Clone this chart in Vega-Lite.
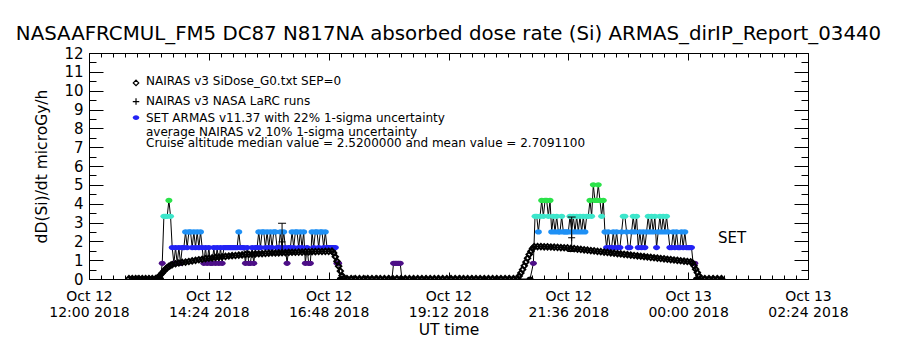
{
  "$schema": "https://vega.github.io/schema/vega-lite/v6.json",
  "width": 719,
  "height": 226,
  "autosize": {"type": "none"},
  "padding": {"left": 89, "top": 53, "right": 92, "bottom": 71},
  "background": "white",
  "config": {
    "view": {"stroke": null},
    "font": "DejaVu Sans",
    "axis": {"domainColor": "black", "tickColor": "black", "labelColor": "black", "titleColor": "black", "labelFont": "DejaVu Sans", "titleFont": "DejaVu Sans", "titleFontWeight": "normal", "grid": false, "domainWidth": 1, "tickWidth": 1}
  },
  "title": {"text": "NASAAFRCMUL_FM5 DC87 N817NA absorbed dose rate (Si) ARMAS_dirIP_Report_03440", "font": "DejaVu Sans", "fontSize": 19.8, "fontWeight": "normal", "color": "black", "anchor": "middle", "offset": 2},
  "datasets": {
    "armas": [
      {"t": "2018-10-12T13:20Z", "a": 0}, {"t": "2018-10-12T13:26Z", "a": 0}, {"t": "2018-10-12T13:28Z", "a": 0.83},
      {"t": "2018-10-12T13:30Z", "a": 3.33}, {"t": "2018-10-12T13:32Z", "a": 3.33}, {"t": "2018-10-12T13:34Z", "a": 3.33},
      {"t": "2018-10-12T13:36Z", "a": 4.17}, {"t": "2018-10-12T13:38Z", "a": 3.33}, {"t": "2018-10-12T13:40Z", "a": 1.67},
      {"t": "2018-10-12T13:42Z", "a": 0.83}, {"t": "2018-10-12T13:44Z", "a": 1.67}, {"t": "2018-10-12T13:46Z", "a": 0.83},
      {"t": "2018-10-12T13:48Z", "a": 1.67}, {"t": "2018-10-12T13:50Z", "a": 0.83}, {"t": "2018-10-12T13:52Z", "a": 1.67},
      {"t": "2018-10-12T13:54Z", "a": 1.67}, {"t": "2018-10-12T13:56Z", "a": 2.5}, {"t": "2018-10-12T13:58Z", "a": 1.67},
      {"t": "2018-10-12T14:00Z", "a": 2.5}, {"t": "2018-10-12T14:02Z", "a": 2.5}, {"t": "2018-10-12T14:04Z", "a": 1.67},
      {"t": "2018-10-12T14:06Z", "a": 2.5}, {"t": "2018-10-12T14:08Z", "a": 1.67}, {"t": "2018-10-12T14:10Z", "a": 2.5},
      {"t": "2018-10-12T14:12Z", "a": 1.67}, {"t": "2018-10-12T14:14Z", "a": 2.5}, {"t": "2018-10-12T14:16Z", "a": 1.67},
      {"t": "2018-10-12T14:18Z", "a": 0.83}, {"t": "2018-10-12T14:20Z", "a": 1.67}, {"t": "2018-10-12T14:22Z", "a": 0.83},
      {"t": "2018-10-12T14:24Z", "a": 1.67}, {"t": "2018-10-12T14:26Z", "a": 0.83}, {"t": "2018-10-12T14:28Z", "a": 0.83},
      {"t": "2018-10-12T14:30Z", "a": 1.67}, {"t": "2018-10-12T14:32Z", "a": 0.83}, {"t": "2018-10-12T14:34Z", "a": 1.67},
      {"t": "2018-10-12T14:36Z", "a": 0.83}, {"t": "2018-10-12T14:38Z", "a": 1.67}, {"t": "2018-10-12T14:40Z", "a": 0.83},
      {"t": "2018-10-12T14:42Z", "a": 1.67}, {"t": "2018-10-12T14:44Z", "a": 1.67}, {"t": "2018-10-12T14:46Z", "a": 1.67},
      {"t": "2018-10-12T14:48Z", "a": 1.67}, {"t": "2018-10-12T14:50Z", "a": 1.67}, {"t": "2018-10-12T14:52Z", "a": 1.67},
      {"t": "2018-10-12T14:54Z", "a": 1.67}, {"t": "2018-10-12T14:56Z", "a": 1.67}, {"t": "2018-10-12T14:58Z", "a": 1.67},
      {"t": "2018-10-12T15:00Z", "a": 2.5}, {"t": "2018-10-12T15:02Z", "a": 1.67}, {"t": "2018-10-12T15:04Z", "a": 1.67},
      {"t": "2018-10-12T15:06Z", "a": 1.67}, {"t": "2018-10-12T15:08Z", "a": 0.83}, {"t": "2018-10-12T15:10Z", "a": 1.67},
      {"t": "2018-10-12T15:12Z", "a": 0.83}, {"t": "2018-10-12T15:14Z", "a": 0.83}, {"t": "2018-10-12T15:16Z", "a": 1.67},
      {"t": "2018-10-12T15:18Z", "a": 0.83}, {"t": "2018-10-12T15:20Z", "a": 1.67}, {"t": "2018-10-12T15:22Z", "a": 1.67},
      {"t": "2018-10-12T15:24Z", "a": 2.5}, {"t": "2018-10-12T15:26Z", "a": 1.67}, {"t": "2018-10-12T15:28Z", "a": 2.5},
      {"t": "2018-10-12T15:30Z", "a": 2.5}, {"t": "2018-10-12T15:32Z", "a": 1.67}, {"t": "2018-10-12T15:34Z", "a": 2.5},
      {"t": "2018-10-12T15:36Z", "a": 1.67}, {"t": "2018-10-12T15:38Z", "a": 2.5}, {"t": "2018-10-12T15:40Z", "a": 1.67},
      {"t": "2018-10-12T15:42Z", "a": 2.5}, {"t": "2018-10-12T15:44Z", "a": 2.5}, {"t": "2018-10-12T15:46Z", "a": 1.67},
      {"t": "2018-10-12T15:48Z", "a": 1.67}, {"t": "2018-10-12T15:50Z", "a": 2.5}, {"t": "2018-10-12T15:52Z", "a": 1.67},
      {"t": "2018-10-12T15:54Z", "a": 2.5}, {"t": "2018-10-12T15:56Z", "a": 1.67}, {"t": "2018-10-12T15:58Z", "a": 0.83},
      {"t": "2018-10-12T16:00Z", "a": 1.67}, {"t": "2018-10-12T16:02Z", "a": 1.67}, {"t": "2018-10-12T16:04Z", "a": 2.5},
      {"t": "2018-10-12T16:06Z", "a": 1.67}, {"t": "2018-10-12T16:08Z", "a": 2.5}, {"t": "2018-10-12T16:10Z", "a": 2.5},
      {"t": "2018-10-12T16:12Z", "a": 1.67}, {"t": "2018-10-12T16:14Z", "a": 2.5}, {"t": "2018-10-12T16:16Z", "a": 1.67},
      {"t": "2018-10-12T16:18Z", "a": 2.5}, {"t": "2018-10-12T16:20Z", "a": 0.83}, {"t": "2018-10-12T16:22Z", "a": 1.67},
      {"t": "2018-10-12T16:24Z", "a": 0.83}, {"t": "2018-10-12T16:26Z", "a": 0.83}, {"t": "2018-10-12T16:28Z", "a": 2.5},
      {"t": "2018-10-12T16:30Z", "a": 1.67}, {"t": "2018-10-12T16:32Z", "a": 2.5}, {"t": "2018-10-12T16:34Z", "a": 2.5},
      {"t": "2018-10-12T16:36Z", "a": 1.67}, {"t": "2018-10-12T16:38Z", "a": 2.5}, {"t": "2018-10-12T16:40Z", "a": 2.5},
      {"t": "2018-10-12T16:42Z", "a": 1.67}, {"t": "2018-10-12T16:44Z", "a": 2.5}, {"t": "2018-10-12T16:46Z", "a": 1.67},
      {"t": "2018-10-12T16:48Z", "a": 1.67}, {"t": "2018-10-12T16:50Z", "a": 1.67}, {"t": "2018-10-12T16:52Z", "a": 1.67},
      {"t": "2018-10-12T16:54Z", "a": 1.67}, {"t": "2018-10-12T16:56Z", "a": 1.67}, {"t": "2018-10-12T16:58Z", "a": 0.83},
      {"t": "2018-10-12T17:00Z", "a": 0.83}, {"t": "2018-10-12T17:02Z", "a": 0},
      {"t": "2018-10-12T18:04Z", "a": 0}, {"t": "2018-10-12T18:06Z", "a": 0.83}, {"t": "2018-10-12T18:08Z", "a": 0.83},
      {"t": "2018-10-12T18:10Z", "a": 0.83}, {"t": "2018-10-12T18:12Z", "a": 0.83}, {"t": "2018-10-12T18:14Z", "a": 0.83},
      {"t": "2018-10-12T18:16Z", "a": 0},
      {"t": "2018-10-12T20:50Z", "a": 0}, {"t": "2018-10-12T20:54Z", "a": 0.83}, {"t": "2018-10-12T20:56Z", "a": 3.33},
      {"t": "2018-10-12T20:58Z", "a": 3.33}, {"t": "2018-10-12T21:00Z", "a": 2.5}, {"t": "2018-10-12T21:02Z", "a": 3.33},
      {"t": "2018-10-12T21:04Z", "a": 4.17}, {"t": "2018-10-12T21:06Z", "a": 3.33}, {"t": "2018-10-12T21:08Z", "a": 4.17},
      {"t": "2018-10-12T21:10Z", "a": 4.17}, {"t": "2018-10-12T21:12Z", "a": 3.33}, {"t": "2018-10-12T21:14Z", "a": 4.17},
      {"t": "2018-10-12T21:16Z", "a": 2.5}, {"t": "2018-10-12T21:18Z", "a": 3.33}, {"t": "2018-10-12T21:20Z", "a": 2.5},
      {"t": "2018-10-12T21:22Z", "a": 3.33}, {"t": "2018-10-12T21:24Z", "a": 2.5}, {"t": "2018-10-12T21:26Z", "a": 2.5},
      {"t": "2018-10-12T21:28Z", "a": 3.33}, {"t": "2018-10-12T21:30Z", "a": 2.5}, {"t": "2018-10-12T21:32Z", "a": 2.5},
      {"t": "2018-10-12T21:34Z", "a": 2.5}, {"t": "2018-10-12T21:36Z", "a": 2.5}, {"t": "2018-10-12T21:38Z", "a": 3.33},
      {"t": "2018-10-12T21:40Z", "a": 2.5}, {"t": "2018-10-12T21:42Z", "a": 3.33}, {"t": "2018-10-12T21:44Z", "a": 2.5},
      {"t": "2018-10-12T21:46Z", "a": 3.33}, {"t": "2018-10-12T21:48Z", "a": 2.5}, {"t": "2018-10-12T21:50Z", "a": 3.33},
      {"t": "2018-10-12T21:52Z", "a": 2.5}, {"t": "2018-10-12T21:54Z", "a": 3.33}, {"t": "2018-10-12T21:56Z", "a": 2.5},
      {"t": "2018-10-12T21:58Z", "a": 3.33}, {"t": "2018-10-12T22:00Z", "a": 3.33}, {"t": "2018-10-12T22:02Z", "a": 4.17},
      {"t": "2018-10-12T22:04Z", "a": 3.33}, {"t": "2018-10-12T22:06Z", "a": 5.0}, {"t": "2018-10-12T22:08Z", "a": 4.17},
      {"t": "2018-10-12T22:10Z", "a": 4.17}, {"t": "2018-10-12T22:12Z", "a": 5.0}, {"t": "2018-10-12T22:14Z", "a": 4.17},
      {"t": "2018-10-12T22:16Z", "a": 3.33}, {"t": "2018-10-12T22:18Z", "a": 4.17}, {"t": "2018-10-12T22:20Z", "a": 2.5},
      {"t": "2018-10-12T22:22Z", "a": 1.67}, {"t": "2018-10-12T22:24Z", "a": 2.5}, {"t": "2018-10-12T22:26Z", "a": 1.67},
      {"t": "2018-10-12T22:28Z", "a": 1.67}, {"t": "2018-10-12T22:30Z", "a": 2.5}, {"t": "2018-10-12T22:32Z", "a": 1.67},
      {"t": "2018-10-12T22:34Z", "a": 2.5}, {"t": "2018-10-12T22:36Z", "a": 1.67}, {"t": "2018-10-12T22:38Z", "a": 1.67},
      {"t": "2018-10-12T22:40Z", "a": 2.5}, {"t": "2018-10-12T22:42Z", "a": 3.33}, {"t": "2018-10-12T22:44Z", "a": 3.33},
      {"t": "2018-10-12T22:46Z", "a": 2.5}, {"t": "2018-10-12T22:48Z", "a": 1.67}, {"t": "2018-10-12T22:50Z", "a": 1.67},
      {"t": "2018-10-12T22:52Z", "a": 2.5}, {"t": "2018-10-12T22:54Z", "a": 3.33}, {"t": "2018-10-12T22:56Z", "a": 2.5},
      {"t": "2018-10-12T22:58Z", "a": 3.33}, {"t": "2018-10-12T23:00Z", "a": 1.67}, {"t": "2018-10-12T23:02Z", "a": 2.5},
      {"t": "2018-10-12T23:04Z", "a": 1.67}, {"t": "2018-10-12T23:06Z", "a": 2.5}, {"t": "2018-10-12T23:08Z", "a": 1.67},
      {"t": "2018-10-12T23:10Z", "a": 2.5}, {"t": "2018-10-12T23:12Z", "a": 3.33}, {"t": "2018-10-12T23:14Z", "a": 2.5},
      {"t": "2018-10-12T23:16Z", "a": 3.33}, {"t": "2018-10-12T23:18Z", "a": 2.5}, {"t": "2018-10-12T23:20Z", "a": 3.33},
      {"t": "2018-10-12T23:22Z", "a": 1.67}, {"t": "2018-10-12T23:24Z", "a": 2.5}, {"t": "2018-10-12T23:26Z", "a": 3.33},
      {"t": "2018-10-12T23:28Z", "a": 2.5}, {"t": "2018-10-12T23:30Z", "a": 3.33}, {"t": "2018-10-12T23:32Z", "a": 2.5},
      {"t": "2018-10-12T23:34Z", "a": 3.33}, {"t": "2018-10-12T23:36Z", "a": 2.5}, {"t": "2018-10-12T23:38Z", "a": 1.67},
      {"t": "2018-10-12T23:40Z", "a": 1.67}, {"t": "2018-10-12T23:42Z", "a": 2.5}, {"t": "2018-10-12T23:44Z", "a": 1.67},
      {"t": "2018-10-12T23:46Z", "a": 2.5}, {"t": "2018-10-12T23:48Z", "a": 1.67}, {"t": "2018-10-12T23:50Z", "a": 1.67},
      {"t": "2018-10-12T23:52Z", "a": 2.5}, {"t": "2018-10-12T23:54Z", "a": 1.67}, {"t": "2018-10-12T23:56Z", "a": 2.5},
      {"t": "2018-10-12T23:58Z", "a": 1.67}, {"t": "2018-10-13T00:00Z", "a": 1.67}, {"t": "2018-10-13T00:02Z", "a": 1.67},
      {"t": "2018-10-13T00:04Z", "a": 1.67}, {"t": "2018-10-13T00:06Z", "a": 0.83}, {"t": "2018-10-13T00:08Z", "a": 0.83},
      {"t": "2018-10-13T00:10Z", "a": 0}, {"t": "2018-10-13T00:40Z", "a": 0}
    ],
    "nairas": [
      {"t": "2018-10-12T12:48Z", "n": 0.02}, {"t": "2018-10-12T12:52Z", "n": 0.02}, {"t": "2018-10-12T12:56Z", "n": 0.02},
      {"t": "2018-10-12T13:00Z", "n": 0.02}, {"t": "2018-10-12T13:04Z", "n": 0.02}, {"t": "2018-10-12T13:08Z", "n": 0.02},
      {"t": "2018-10-12T13:12Z", "n": 0.02}, {"t": "2018-10-12T13:16Z", "n": 0.02}, {"t": "2018-10-12T13:20Z", "n": 0.02},
      {"t": "2018-10-12T13:22Z", "n": 0.05}, {"t": "2018-10-12T13:24Z", "n": 0.12}, {"t": "2018-10-12T13:26Z", "n": 0.22},
      {"t": "2018-10-12T13:28Z", "n": 0.32}, {"t": "2018-10-12T13:30Z", "n": 0.42}, {"t": "2018-10-12T13:32Z", "n": 0.52},
      {"t": "2018-10-12T13:34Z", "n": 0.6}, {"t": "2018-10-12T13:36Z", "n": 0.67}, {"t": "2018-10-12T13:38Z", "n": 0.72},
      {"t": "2018-10-12T13:40Z", "n": 0.76}, {"t": "2018-10-12T13:44Z", "n": 0.81}, {"t": "2018-10-12T13:48Z", "n": 0.85},
      {"t": "2018-10-12T13:52Z", "n": 0.88}, {"t": "2018-10-12T13:56Z", "n": 0.9}, {"t": "2018-10-12T14:00Z", "n": 0.93},
      {"t": "2018-10-12T14:04Z", "n": 0.96}, {"t": "2018-10-12T14:08Z", "n": 0.99}, {"t": "2018-10-12T14:12Z", "n": 1.02},
      {"t": "2018-10-12T14:16Z", "n": 1.05}, {"t": "2018-10-12T14:20Z", "n": 1.08}, {"t": "2018-10-12T14:24Z", "n": 1.1},
      {"t": "2018-10-12T14:28Z", "n": 1.12}, {"t": "2018-10-12T14:32Z", "n": 1.14}, {"t": "2018-10-12T14:36Z", "n": 1.16},
      {"t": "2018-10-12T14:40Z", "n": 1.18}, {"t": "2018-10-12T14:44Z", "n": 1.2}, {"t": "2018-10-12T14:48Z", "n": 1.22},
      {"t": "2018-10-12T14:52Z", "n": 1.24}, {"t": "2018-10-12T14:56Z", "n": 1.25}, {"t": "2018-10-12T15:00Z", "n": 1.27},
      {"t": "2018-10-12T15:04Z", "n": 1.28}, {"t": "2018-10-12T15:08Z", "n": 1.3}, {"t": "2018-10-12T15:12Z", "n": 1.31},
      {"t": "2018-10-12T15:16Z", "n": 1.32}, {"t": "2018-10-12T15:20Z", "n": 1.33}, {"t": "2018-10-12T15:24Z", "n": 1.34},
      {"t": "2018-10-12T15:28Z", "n": 1.35}, {"t": "2018-10-12T15:32Z", "n": 1.36}, {"t": "2018-10-12T15:36Z", "n": 1.37},
      {"t": "2018-10-12T15:40Z", "n": 1.38}, {"t": "2018-10-12T15:44Z", "n": 1.38}, {"t": "2018-10-12T15:48Z", "n": 1.39},
      {"t": "2018-10-12T15:52Z", "n": 1.4}, {"t": "2018-10-12T15:56Z", "n": 1.4}, {"t": "2018-10-12T16:00Z", "n": 1.41},
      {"t": "2018-10-12T16:04Z", "n": 1.42}, {"t": "2018-10-12T16:08Z", "n": 1.42}, {"t": "2018-10-12T16:12Z", "n": 1.43},
      {"t": "2018-10-12T16:16Z", "n": 1.43}, {"t": "2018-10-12T16:20Z", "n": 1.44}, {"t": "2018-10-12T16:24Z", "n": 1.44},
      {"t": "2018-10-12T16:28Z", "n": 1.45}, {"t": "2018-10-12T16:32Z", "n": 1.45}, {"t": "2018-10-12T16:36Z", "n": 1.46},
      {"t": "2018-10-12T16:40Z", "n": 1.46}, {"t": "2018-10-12T16:44Z", "n": 1.47}, {"t": "2018-10-12T16:48Z", "n": 1.47},
      {"t": "2018-10-12T16:52Z", "n": 1.48}, {"t": "2018-10-12T16:54Z", "n": 1.38}, {"t": "2018-10-12T16:56Z", "n": 1.18},
      {"t": "2018-10-12T16:58Z", "n": 0.94}, {"t": "2018-10-12T17:00Z", "n": 0.68}, {"t": "2018-10-12T17:02Z", "n": 0.42},
      {"t": "2018-10-12T17:04Z", "n": 0.18}, {"t": "2018-10-12T17:06Z", "n": 0.04},
      {"t": "2018-10-12T17:10Z", "n": 0.02}, {"t": "2018-10-12T17:15Z", "n": 0.02}, {"t": "2018-10-12T17:20Z", "n": 0.02},
      {"t": "2018-10-12T17:25Z", "n": 0.02}, {"t": "2018-10-12T17:30Z", "n": 0.02}, {"t": "2018-10-12T17:35Z", "n": 0.02},
      {"t": "2018-10-12T17:40Z", "n": 0.02}, {"t": "2018-10-12T17:45Z", "n": 0.02}, {"t": "2018-10-12T17:50Z", "n": 0.02},
      {"t": "2018-10-12T17:55Z", "n": 0.02}, {"t": "2018-10-12T18:00Z", "n": 0.02}, {"t": "2018-10-12T18:05Z", "n": 0.02},
      {"t": "2018-10-12T18:10Z", "n": 0.02}, {"t": "2018-10-12T18:15Z", "n": 0.02}, {"t": "2018-10-12T18:20Z", "n": 0.02},
      {"t": "2018-10-12T18:25Z", "n": 0.02}, {"t": "2018-10-12T18:30Z", "n": 0.02}, {"t": "2018-10-12T18:35Z", "n": 0.02},
      {"t": "2018-10-12T18:40Z", "n": 0.02}, {"t": "2018-10-12T18:45Z", "n": 0.02}, {"t": "2018-10-12T18:50Z", "n": 0.02},
      {"t": "2018-10-12T18:55Z", "n": 0.02}, {"t": "2018-10-12T19:00Z", "n": 0.02}, {"t": "2018-10-12T19:05Z", "n": 0.02},
      {"t": "2018-10-12T19:10Z", "n": 0.02}, {"t": "2018-10-12T19:15Z", "n": 0.02}, {"t": "2018-10-12T19:20Z", "n": 0.02},
      {"t": "2018-10-12T19:25Z", "n": 0.02}, {"t": "2018-10-12T19:30Z", "n": 0.02}, {"t": "2018-10-12T19:35Z", "n": 0.02},
      {"t": "2018-10-12T19:40Z", "n": 0.02}, {"t": "2018-10-12T19:45Z", "n": 0.02}, {"t": "2018-10-12T19:50Z", "n": 0.02},
      {"t": "2018-10-12T19:55Z", "n": 0.02}, {"t": "2018-10-12T20:00Z", "n": 0.02}, {"t": "2018-10-12T20:05Z", "n": 0.02},
      {"t": "2018-10-12T20:10Z", "n": 0.02}, {"t": "2018-10-12T20:15Z", "n": 0.02}, {"t": "2018-10-12T20:20Z", "n": 0.02},
      {"t": "2018-10-12T20:25Z", "n": 0.02}, {"t": "2018-10-12T20:30Z", "n": 0.02},
      {"t": "2018-10-12T20:35Z", "n": 0.04}, {"t": "2018-10-12T20:37Z", "n": 0.16}, {"t": "2018-10-12T20:39Z", "n": 0.32},
      {"t": "2018-10-12T20:41Z", "n": 0.5}, {"t": "2018-10-12T20:43Z", "n": 0.7}, {"t": "2018-10-12T20:45Z", "n": 0.9},
      {"t": "2018-10-12T20:47Z", "n": 1.1}, {"t": "2018-10-12T20:49Z", "n": 1.3}, {"t": "2018-10-12T20:51Z", "n": 1.47},
      {"t": "2018-10-12T20:53Z", "n": 1.62}, {"t": "2018-10-12T20:55Z", "n": 1.72}, {"t": "2018-10-12T20:59Z", "n": 1.72},
      {"t": "2018-10-12T21:03Z", "n": 1.72}, {"t": "2018-10-12T21:07Z", "n": 1.71}, {"t": "2018-10-12T21:11Z", "n": 1.71},
      {"t": "2018-10-12T21:15Z", "n": 1.7}, {"t": "2018-10-12T21:19Z", "n": 1.69}, {"t": "2018-10-12T21:23Z", "n": 1.68},
      {"t": "2018-10-12T21:27Z", "n": 1.67}, {"t": "2018-10-12T21:31Z", "n": 1.66}, {"t": "2018-10-12T21:35Z", "n": 1.65},
      {"t": "2018-10-12T21:39Z", "n": 1.63}, {"t": "2018-10-12T21:43Z", "n": 1.61}, {"t": "2018-10-12T21:47Z", "n": 1.59},
      {"t": "2018-10-12T21:51Z", "n": 1.57}, {"t": "2018-10-12T21:55Z", "n": 1.55}, {"t": "2018-10-12T21:59Z", "n": 1.53},
      {"t": "2018-10-12T22:03Z", "n": 1.51}, {"t": "2018-10-12T22:07Z", "n": 1.49}, {"t": "2018-10-12T22:11Z", "n": 1.47},
      {"t": "2018-10-12T22:15Z", "n": 1.45}, {"t": "2018-10-12T22:19Z", "n": 1.43}, {"t": "2018-10-12T22:23Z", "n": 1.41},
      {"t": "2018-10-12T22:27Z", "n": 1.39}, {"t": "2018-10-12T22:31Z", "n": 1.37}, {"t": "2018-10-12T22:35Z", "n": 1.35},
      {"t": "2018-10-12T22:39Z", "n": 1.33}, {"t": "2018-10-12T22:43Z", "n": 1.31}, {"t": "2018-10-12T22:47Z", "n": 1.29},
      {"t": "2018-10-12T22:51Z", "n": 1.27}, {"t": "2018-10-12T22:55Z", "n": 1.25}, {"t": "2018-10-12T22:59Z", "n": 1.23},
      {"t": "2018-10-12T23:03Z", "n": 1.21}, {"t": "2018-10-12T23:07Z", "n": 1.19}, {"t": "2018-10-12T23:11Z", "n": 1.17},
      {"t": "2018-10-12T23:15Z", "n": 1.15}, {"t": "2018-10-12T23:19Z", "n": 1.13}, {"t": "2018-10-12T23:23Z", "n": 1.11},
      {"t": "2018-10-12T23:27Z", "n": 1.09}, {"t": "2018-10-12T23:31Z", "n": 1.07}, {"t": "2018-10-12T23:35Z", "n": 1.05},
      {"t": "2018-10-12T23:39Z", "n": 1.03}, {"t": "2018-10-12T23:43Z", "n": 1.01}, {"t": "2018-10-12T23:47Z", "n": 0.99},
      {"t": "2018-10-12T23:51Z", "n": 0.97}, {"t": "2018-10-12T23:55Z", "n": 0.95}, {"t": "2018-10-12T23:59Z", "n": 0.93},
      {"t": "2018-10-13T00:03Z", "n": 0.91}, {"t": "2018-10-13T00:05Z", "n": 0.86}, {"t": "2018-10-13T00:07Z", "n": 0.7},
      {"t": "2018-10-13T00:09Z", "n": 0.52}, {"t": "2018-10-13T00:11Z", "n": 0.34}, {"t": "2018-10-13T00:13Z", "n": 0.17},
      {"t": "2018-10-13T00:15Z", "n": 0.04}, {"t": "2018-10-13T00:20Z", "n": 0.02}, {"t": "2018-10-13T00:25Z", "n": 0.02},
      {"t": "2018-10-13T00:30Z", "n": 0.02}, {"t": "2018-10-13T00:35Z", "n": 0.02}, {"t": "2018-10-13T00:40Z", "n": 0.02}
    ],
    "larc": [
      {"t": "2018-10-12T15:52Z", "v": 1.97, "lo": 1.31, "hi": 2.96},
      {"t": "2018-10-12T21:40Z", "v": 2.19, "lo": 1.46, "hi": 3.29}
    ]
  },
  "layer": [
    {
      "data": {"name": "armas"},
      "mark": {"type": "line", "color": "black", "strokeWidth": 1, "clip": true},
      "encoding": {
        "x": {"field": "t", "type": "temporal",
          "scale": {"type": "utc", "nice": false, "domain": [{"year": 2018, "month": 10, "date": 12, "hours": 12, "utc": true}, {"year": 2018, "month": 10, "date": 13, "hours": 2, "minutes": 24, "utc": true}]},
          "axis": {"orient": "bottom", "title": "UT time", "titleFontSize": 15.5, "titlePadding": 3,
            "values": [{"year": 2018, "month": 10, "date": 12, "hours": 12, "utc": true}, {"year": 2018, "month": 10, "date": 12, "hours": 14, "minutes": 24, "utc": true}, {"year": 2018, "month": 10, "date": 12, "hours": 16, "minutes": 48, "utc": true}, {"year": 2018, "month": 10, "date": 12, "hours": 19, "minutes": 12, "utc": true}, {"year": 2018, "month": 10, "date": 12, "hours": 21, "minutes": 36, "utc": true}, {"year": 2018, "month": 10, "date": 13, "hours": 0, "utc": true}, {"year": 2018, "month": 10, "date": 13, "hours": 2, "minutes": 24, "utc": true}],
            "labelExpr": "[utcFormat(datum.value, '%b %d'), utcFormat(datum.value, '%H:%M %Y')]",
            "tickSize": -7, "labelPadding": 17, "labelBaseline": "top", "labelAlign": "center", "labelFontSize": 14, "labelLineHeight": 16.5, "labelFlush": false, "labelOverlap": false, "labelBound": false}},
        "y": {"field": "a", "type": "quantitative",
          "scale": {"domain": [0, 12], "nice": false, "zero": false},
          "axis": {"orient": "left", "title": "dD(Si)/dt microGy/h", "titleFontSize": 15.5, "titlePadding": 14,
            "values": [0, 1, 2, 3, 4, 5, 6, 7, 8, 9, 10, 11, 12], "format": "d",
            "tickSize": -14, "labelPadding": 20, "labelFontSize": 15, "labelFlush": false, "labelOverlap": false}}
      }
    },
    {
      "data": {"name": "armas"},
      "mark": {"type": "point", "shape": "M-1,0A1,0.75,0,1,0,1,0A1,0.75,0,1,0,-1,0Z", "filled": true, "size": 49, "opacity": 1, "clip": true},
      "encoding": {
        "x": {"field": "t", "type": "temporal",
          "axis": {"orient": "bottom", "title": null, "labels": false, "domain": false, "tickSize": -4,
            "values": {"expr": "sequence(1539345600000, 1539397440001, 864000)"}}},
        "y": {"field": "a", "type": "quantitative",
          "axis": {"orient": "left", "title": null, "labels": false, "domain": false, "tickSize": -7,
            "values": [0.5, 1.5, 2.5, 3.5, 4.5, 5.5, 6.5, 7.5, 8.5, 9.5, 10.5, 11.5]}},
        "color": {"field": "a", "type": "quantitative", "legend": null,
          "scale": {"type": "threshold", "domain": [0.4, 1.2, 2.1, 2.9, 3.7], "range": ["#000000", "#4d0f87", "#2323f5", "#1e90f5", "#3de6cb", "#2be24a"]}}
      }
    },
    {
      "data": {"name": "nairas"},
      "mark": {"type": "point", "shape": "diamond", "filled": false, "size": 30, "stroke": "black", "strokeWidth": 1.9, "opacity": 1, "clip": true},
      "encoding": {
        "x": {"field": "t", "type": "temporal",
          "axis": {"orient": "top", "title": null, "labels": false, "tickSize": -7,
            "values": [{"year": 2018, "month": 10, "date": 12, "hours": 12, "utc": true}, {"year": 2018, "month": 10, "date": 12, "hours": 14, "minutes": 24, "utc": true}, {"year": 2018, "month": 10, "date": 12, "hours": 16, "minutes": 48, "utc": true}, {"year": 2018, "month": 10, "date": 12, "hours": 19, "minutes": 12, "utc": true}, {"year": 2018, "month": 10, "date": 12, "hours": 21, "minutes": 36, "utc": true}, {"year": 2018, "month": 10, "date": 13, "hours": 0, "utc": true}, {"year": 2018, "month": 10, "date": 13, "hours": 2, "minutes": 24, "utc": true}]}},
        "y": {"field": "n", "type": "quantitative",
          "axis": {"orient": "right", "title": null, "labels": false, "tickSize": -14,
            "values": [0, 1, 2, 3, 4, 5, 6, 7, 8, 9, 10, 11, 12]}}
      }
    },
    {
      "data": {"name": "larc"},
      "mark": {"type": "rule", "color": "black", "strokeWidth": 1},
      "encoding": {
        "x": {"field": "t", "type": "temporal",
          "axis": {"orient": "top", "title": null, "labels": false, "domain": false, "tickSize": -4,
            "values": {"expr": "sequence(1539345600000, 1539397440001, 864000)"}}},
        "y": {"field": "lo", "type": "quantitative",
          "axis": {"orient": "right", "title": null, "labels": false, "domain": false, "tickSize": -7,
            "values": [0.5, 1.5, 2.5, 3.5, 4.5, 5.5, 6.5, 7.5, 8.5, 9.5, 10.5, 11.5]}},
        "y2": {"field": "hi"}
      }
    },
    {
      "data": {"name": "larc"},
      "mark": {"type": "tick", "orient": "horizontal", "size": 8, "thickness": 1, "color": "black", "opacity": 1},
      "encoding": {
        "x": {"field": "t", "type": "temporal", "axis": null},
        "y": {"field": "hi", "type": "quantitative", "axis": null}
      }
    },
    {
      "data": {"name": "larc"},
      "mark": {"type": "tick", "orient": "horizontal", "size": 8, "thickness": 1, "color": "black", "opacity": 1},
      "encoding": {
        "x": {"field": "t", "type": "temporal", "axis": null},
        "y": {"field": "lo", "type": "quantitative", "axis": null}
      }
    },
    {
      "data": {"name": "larc"},
      "mark": {"type": "point", "shape": "M-1,0H1M0,-1V1", "filled": false, "size": 49, "stroke": "black", "strokeWidth": 1, "opacity": 1},
      "encoding": {
        "x": {"field": "t", "type": "temporal", "axis": null},
        "y": {"field": "v", "type": "quantitative", "axis": null}
      }
    },
    {
      "data": {"values": [{}]},
      "mark": {"type": "point", "shape": "diamond", "filled": false, "size": 30, "stroke": "black", "strokeWidth": 1.2, "opacity": 1},
      "encoding": {
        "x": {"datum": {"year": 2018, "month": 10, "date": 12, "hours": 12, "minutes": 56, "seconds": 30, "utc": true}, "type": "temporal", "axis": null},
        "y": {"datum": 10.41, "type": "quantitative", "axis": null}
      }
    },
    {
      "data": {"values": [{}]},
      "mark": {"type": "point", "shape": "M-1,0H1M0,-1V1", "filled": false, "size": 42, "stroke": "black", "strokeWidth": 1.2, "opacity": 1},
      "encoding": {
        "x": {"datum": {"year": 2018, "month": 10, "date": 12, "hours": 12, "minutes": 56, "seconds": 30, "utc": true}, "type": "temporal", "axis": null},
        "y": {"datum": 9.42, "type": "quantitative", "axis": null}
      }
    },
    {
      "data": {"values": [{}]},
      "mark": {"type": "point", "shape": "M-1,0A1,0.75,0,1,0,1,0A1,0.75,0,1,0,-1,0Z", "filled": true, "size": 42, "color": "#2323f5", "opacity": 1},
      "encoding": {
        "x": {"datum": {"year": 2018, "month": 10, "date": 12, "hours": 12, "minutes": 56, "seconds": 30, "utc": true}, "type": "temporal", "axis": null},
        "y": {"datum": 8.57, "type": "quantitative", "axis": null}
      }
    },
    {
      "data": {"values": [{}]},
      "mark": {"type": "text", "text": "NAIRAS v3 SiDose_G0.txt SEP=0", "align": "left", "baseline": "middle", "fontSize": 12, "color": "black"},
      "encoding": {
        "x": {"datum": {"year": 2018, "month": 10, "date": 12, "hours": 13, "minutes": 8, "seconds": 30, "utc": true}, "type": "temporal", "axis": null},
        "y": {"datum": 10.52, "type": "quantitative", "axis": null}
      }
    },
    {
      "data": {"values": [{}]},
      "mark": {"type": "text", "text": "NAIRAS v3 NASA LaRC runs", "align": "left", "baseline": "middle", "fontSize": 12, "color": "black"},
      "encoding": {
        "x": {"datum": {"year": 2018, "month": 10, "date": 12, "hours": 13, "minutes": 8, "seconds": 30, "utc": true}, "type": "temporal", "axis": null},
        "y": {"datum": 9.45, "type": "quantitative", "axis": null}
      }
    },
    {
      "data": {"values": [{}]},
      "mark": {"type": "text", "text": "SET ARMAS v11.37 with 22% 1-sigma uncertainty", "align": "left", "baseline": "middle", "fontSize": 12, "color": "black"},
      "encoding": {
        "x": {"datum": {"year": 2018, "month": 10, "date": 12, "hours": 13, "minutes": 8, "seconds": 30, "utc": true}, "type": "temporal", "axis": null},
        "y": {"datum": 8.55, "type": "quantitative", "axis": null}
      }
    },
    {
      "data": {"values": [{}]},
      "mark": {"type": "text", "text": "average NAIRAS v2 10% 1-sigma uncertainty", "align": "left", "baseline": "middle", "fontSize": 12, "color": "black"},
      "encoding": {
        "x": {"datum": {"year": 2018, "month": 10, "date": 12, "hours": 13, "minutes": 8, "seconds": 30, "utc": true}, "type": "temporal", "axis": null},
        "y": {"datum": 7.78, "type": "quantitative", "axis": null}
      }
    },
    {
      "data": {"values": [{}]},
      "mark": {"type": "text", "text": "Cruise altitude median value = 2.5200000 and mean value = 2.7091100", "align": "left", "baseline": "middle", "fontSize": 12, "color": "black"},
      "encoding": {
        "x": {"datum": {"year": 2018, "month": 10, "date": 12, "hours": 13, "minutes": 8, "seconds": 30, "utc": true}, "type": "temporal", "axis": null},
        "y": {"datum": 7.22, "type": "quantitative", "axis": null}
      }
    },
    {
      "data": {"values": [{}]},
      "mark": {"type": "text", "text": "SET", "align": "left", "baseline": "middle", "fontSize": 15, "color": "black"},
      "encoding": {
        "x": {"datum": {"year": 2018, "month": 10, "date": 13, "hours": 0, "minutes": 35, "seconds": 50, "utc": true}, "type": "temporal", "axis": null},
        "y": {"datum": 2.2, "type": "quantitative", "axis": null}
      }
    }
  ],
  "resolve": {"axis": {"x": "independent", "y": "independent"}}
}
